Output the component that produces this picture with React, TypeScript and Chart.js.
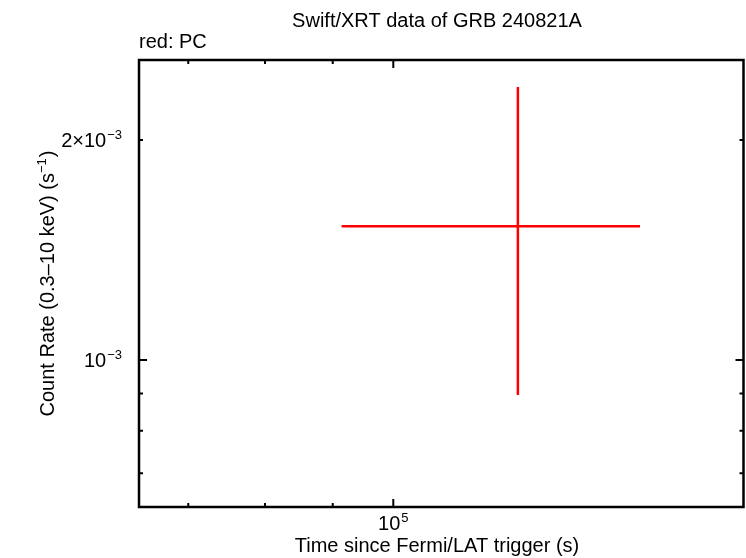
import React, { useEffect, useRef } from "react";
import { Chart, registerables } from "chart.js";

Chart.register(...registerables);

// ---- data ----
const pointTime = [1.242e5];
const timeLow = [9.14e4];
const timeHigh = [1.536e5];
const pointRate = [1.524e-3];
const rateLow = [8.96e-4];
const rateHigh = [2.364e-3];

// ---- axes ----
const xMin = 6.425e4;
const xMax = 1.839e5;
const yMin = 6.294e-4;
const yMax = 2.573e-3;

const xMajorTicks = [1e5];
const xMinorTicks = [7e4, 8e4, 9e4];
const xLabelValues = [1e5];
const xLabelBase = ["10"];
const xLabelExp = ["5"];

const yMajorTicks = [1e-3];
const yMinorTicks = [7e-4, 8e-4, 9e-4, 2e-3];
const yLabelValues = [2e-3, 1e-3];
const yLabelBase = ["2\u00d710", "10"];
const yLabelExp = ["\u22123", "\u22123"];

const titleText = "Swift/XRT data of GRB 240821A";
const legendText = "red: PC";
const xTitle = "Time since Fermi/LAT trigger (s)";
const yTitleMain = "Count Rate (0.3\u201310 keV) (s";
const yTitleExp = "\u22121";
const yTitleEnd = ")";

const FONT = "'Liberation Sans', Arial, Helvetica, sans-serif";

export default function App() {
  const canvasRef = useRef<HTMLCanvasElement | null>(null);

  useEffect(() => {
    document.body.style.margin = "0";
    const canvas = canvasRef.current;
    if (!canvas) return;

    const datasets: any[] = [];
    for (let i = 0; i < pointTime.length; i++) {
      datasets.push({
        data: [
          { x: timeLow[i], y: pointRate[i] },
          { x: timeHigh[i], y: pointRate[i] },
        ],
        showLine: true,
        borderColor: "#ff0000",
        borderWidth: 2.5,
        pointRadius: 0,
        borderCapStyle: "butt",
      });
      datasets.push({
        data: [
          { x: pointTime[i], y: rateLow[i] },
          { x: pointTime[i], y: rateHigh[i] },
        ],
        showLine: true,
        borderColor: "#ff0000",
        borderWidth: 2.5,
        pointRadius: 0,
        borderCapStyle: "butt",
      });
    }

    const drawSup = (
      ctx: CanvasRenderingContext2D,
      base: string,
      exp: string,
      x: number,
      y: number,
      align: "right" | "center" | "left",
      size: number
    ) => {
      ctx.font = `${size}px ${FONT}`;
      const wb = ctx.measureText(base).width;
      ctx.font = `${Math.round(size * 0.65)}px ${FONT}`;
      const we = ctx.measureText(exp).width;
      const total = wb + we + 1;
      let left = x;
      if (align === "right") left = x - total;
      else if (align === "center") left = x - total / 2;
      ctx.textAlign = "left";
      ctx.textBaseline = "alphabetic";
      ctx.font = `${size}px ${FONT}`;
      ctx.fillText(base, left, y);
      ctx.font = `${Math.round(size * 0.65)}px ${FONT}`;
      ctx.fillText(exp, left + wb + 1, y - size * 0.42);
    };

    const framePlugin = {
      id: "frame",
      afterDraw(chart: any) {
        const ctx: CanvasRenderingContext2D = chart.ctx;
        const { left, right, top, bottom } = chart.chartArea;
        const xs = chart.scales.x;
        const ys = chart.scales.y;
        ctx.save();
        ctx.strokeStyle = "#000";
        ctx.fillStyle = "#000";
        ctx.lineWidth = 2.5;
        ctx.strokeRect(left, top, right - left, bottom - top);

        const major = 8;
        const minor = 4;
        ctx.lineWidth = 2;
        ctx.beginPath();
        const xt = (vals: number[], len: number) => {
          vals.forEach((v) => {
            const px = xs.getPixelForValue(v);
            ctx.moveTo(px, bottom);
            ctx.lineTo(px, bottom - len);
            ctx.moveTo(px, top);
            ctx.lineTo(px, top + len);
          });
        };
        const yt = (vals: number[], len: number) => {
          vals.forEach((v) => {
            const py = ys.getPixelForValue(v);
            ctx.moveTo(left, py);
            ctx.lineTo(left + len, py);
            ctx.moveTo(right, py);
            ctx.lineTo(right - len, py);
          });
        };
        xt(xMajorTicks, major);
        xt(xMinorTicks, minor);
        yt(yMajorTicks, major);
        yt(yMinorTicks, minor);
        ctx.stroke();

        // tick labels
        xLabelValues.forEach((v, i) => {
          const px = xs.getPixelForValue(v);
          drawSup(ctx, xLabelBase[i], xLabelExp[i], px, bottom + 23, "center", 20);
        });
        yLabelValues.forEach((v, i) => {
          const py = ys.getPixelForValue(v);
          drawSup(ctx, yLabelBase[i], yLabelExp[i], left - 17, py + 7, "right", 20);
        });

        // titles
        ctx.font = `20px ${FONT}`;
        ctx.textAlign = "center";
        ctx.textBaseline = "alphabetic";
        ctx.fillText(titleText, 437, 27);
        ctx.textAlign = "left";
        ctx.fillText(legendText, 139, 48);
        ctx.textAlign = "center";
        ctx.fillText(xTitle, 437, 552);

        // y title rotated
        ctx.save();
        ctx.translate(54, (top + bottom) / 2);
        ctx.rotate(-Math.PI / 2);
        ctx.font = `20px ${FONT}`;
        const w1 = ctx.measureText(yTitleMain).width;
        ctx.font = `13px ${FONT}`;
        const w2 = ctx.measureText(yTitleExp).width;
        ctx.font = `20px ${FONT}`;
        const w3 = ctx.measureText(yTitleEnd).width;
        const tot = w1 + w2 + w3 + 1;
        let sx = -tot / 2;
        ctx.textAlign = "left";
        ctx.fillText(yTitleMain, sx, 0);
        sx += w1;
        ctx.font = `13px ${FONT}`;
        ctx.fillText(yTitleExp, sx, -8);
        sx += w2 + 1;
        ctx.font = `20px ${FONT}`;
        ctx.fillText(yTitleEnd, sx, 0);
        ctx.restore();

        ctx.restore();
      },
    };

    const chart = new Chart(canvas, {
      type: "scatter",
      data: { datasets },
      options: {
        animation: false,
        responsive: false,
        devicePixelRatio: 1,
        layout: { padding: { left: 139, right: 2.5, top: 60, bottom: 51 } },
        plugins: {
          legend: { display: false },
          tooltip: { enabled: false },
          title: { display: false },
        },
        scales: {
          x: {
            type: "logarithmic",
            bounds: "data",
            min: xMin,
            max: xMax,
            grid: { display: false },
            border: { display: false },
            ticks: { display: false },
            afterFit: (s: any) => {
              s.height = 0;
            },
            afterDataLimits: (s: any) => {
              s.min = xMin;
              s.max = xMax;
            },
          },
          y: {
            type: "logarithmic",
            bounds: "data",
            min: yMin,
            max: yMax,
            grid: { display: false },
            border: { display: false },
            ticks: { display: false },
            afterFit: (s: any) => {
              s.width = 0;
            },
            afterDataLimits: (s: any) => {
              s.min = yMin;
              s.max = yMax;
            },
          },
        },
      },
      plugins: [framePlugin],
    });

    return () => chart.destroy();
  }, []);

  return (
    <div style={{ width: 746, height: 558, background: "#fff" }}>
      <canvas ref={canvasRef} width={746} height={558} style={{ display: "block" }} />
    </div>
  );
}
